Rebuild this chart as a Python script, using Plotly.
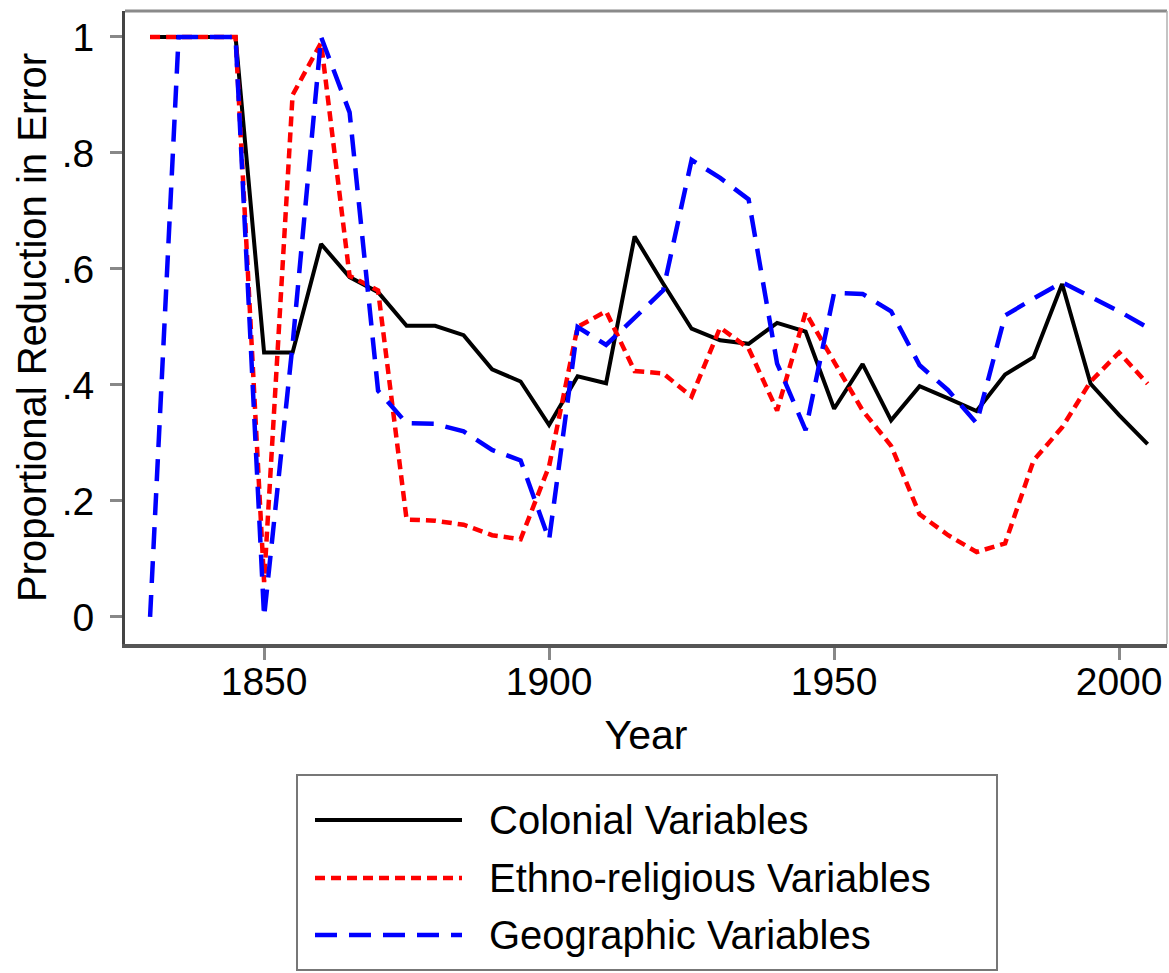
import plotly.graph_objects as go

# ---- data ----
years = list(range(1830, 2006, 5))
colonial = [1, 1, 1, 1, 0.456, 0.456, 0.643, 0.586, 0.560, 0.502, 0.502, 0.486, 0.427, 0.406,
            0.331, 0.415, 0.403, 0.656, 0.575, 0.497, 0.477, 0.471, 0.507, 0.492, 0.359, 0.436,
            0.339, 0.398, 0.377, 0.355, 0.418, 0.448, 0.574, 0.402, 0.348, 0.298]
ethno = [1, 1, 1, 1, 0.06, 0.90, 0.99, 0.588, 0.563, 0.168, 0.166, 0.159, 0.141, 0.134,
         0.26, 0.50, 0.527, 0.424, 0.42, 0.38, 0.499, 0.463, 0.356, 0.525, 0.44, 0.356,
         0.295, 0.177, 0.141, 0.112, 0.127, 0.27, 0.327, 0.406, 0.456, 0.402]
geographic = [0, 1, 1, 1, 0, 0.47, 1.0, 0.87, 0.39, 0.334, 0.333, 0.32, 0.288, 0.27,
              0.133, 0.50, 0.469, 0.515, 0.563, 0.788, 0.757, 0.72, 0.437, 0.322, 0.559, 0.557,
              0.527, 0.434, 0.391, 0.334, 0.52, 0.549, 0.577, 0.552, 0.527, 0.499]
series_names = ["Colonial Variables", "Ethno-religious Variables", "Geographic Variables"]
y_tickvals = [0, 0.2, 0.4, 0.6, 0.8, 1]
y_ticktext = ["0", ".2", ".4", ".6", ".8", "1"]
x_tickvals = [1850, 1900, 1950, 2000]

FONT = "Liberation Sans, Arial, Helvetica, sans-serif"
styles = [
    dict(color="black", width=4, dash="solid"),
    dict(color="#ff0000", width=4.5, dash="10px,6px"),
    dict(color="#0000ff", width=4.5, dash="22px,12px"),
]

W, H = 1169, 973
L, R, T, B = 125, 2, 11, 329
pw, ph = W - L - R, H - T - B

fig = go.Figure()
for name, ys, st in zip(series_names, [colonial, ethno, geographic], styles):
    fig.add_trace(go.Scatter(x=years, y=ys, mode="lines", name=name, line=st, showlegend=False))


def px2x(px):
    return (px - L) / pw


def px2y(py):
    return (H - B - py) / ph


shapes = []
annotations = []
# top and right frame borders
shapes.append(dict(type="line", xref="paper", yref="paper", x0=0, x1=1, y0=1, y1=1,
                   line=dict(color="#8a8a8a", width=3)))
shapes.append(dict(type="line", xref="paper", yref="paper", x0=1, x1=1, y0=0, y1=1,
                   line=dict(color="#b0b0b0", width=1.5)))
# custom legend box
shapes.append(dict(type="rect", xref="paper", yref="paper",
                   x0=px2x(297), x1=px2x(997), y0=px2y(970), y1=px2y(775),
                   line=dict(color="#777777", width=2), fillcolor="white"))
row_y = [820, 878, 935]
for name, st, ry in zip(series_names, styles, row_y):
    shapes.append(dict(type="line", xref="paper", yref="paper",
                       x0=px2x(315), x1=px2x(462), y0=px2y(ry), y1=px2y(ry),
                       line=dict(color=st["color"], width=st["width"], dash=st["dash"])))
    annotations.append(dict(xref="paper", yref="paper", x=px2x(487), y=px2y(ry),
                            xanchor="left", yanchor="middle", text=name, showarrow=False,
                            font=dict(family=FONT, size=40, color="black")))

fig.update_layout(
    width=W, height=H,
    margin=dict(l=L, r=R, t=T, b=B),
    paper_bgcolor="white", plot_bgcolor="white",
    font=dict(family=FONT, size=39, color="black"),
    shapes=shapes, annotations=annotations,
    showlegend=False,
)
fig.update_xaxes(
    range=[1825.6, 2008.4], tickvals=x_tickvals, showgrid=False, zeroline=False,
    showline=True, linecolor="#555555", linewidth=4,
    ticks="outside", ticklen=12, tickwidth=3, tickcolor="#888888",
    tickfont=dict(family=FONT, size=39, color="black"), ticklabelstandoff=-12,
    title=dict(text="Year", font=dict(family=FONT, size=41, color="black"), standoff=20),
)
fig.update_yaxes(
    range=[-0.0466, 1.0448], tickvals=y_tickvals, ticktext=y_ticktext, showgrid=False,
    zeroline=False, showline=True, linecolor="#444444", linewidth=3,
    ticks="outside", ticklen=12, tickwidth=3, tickcolor="#888888",
    tickfont=dict(family=FONT, size=39, color="black"), ticklabelstandoff=8,
    title=dict(text="Proportional Reduction in Error",
               font=dict(family=FONT, size=40, color="black"), standoff=3),
)

fig.write_html("out.html", config={"displayModeBar": False},
               post_script="document.body.style.margin='0px';document.body.style.overflow='hidden';")
